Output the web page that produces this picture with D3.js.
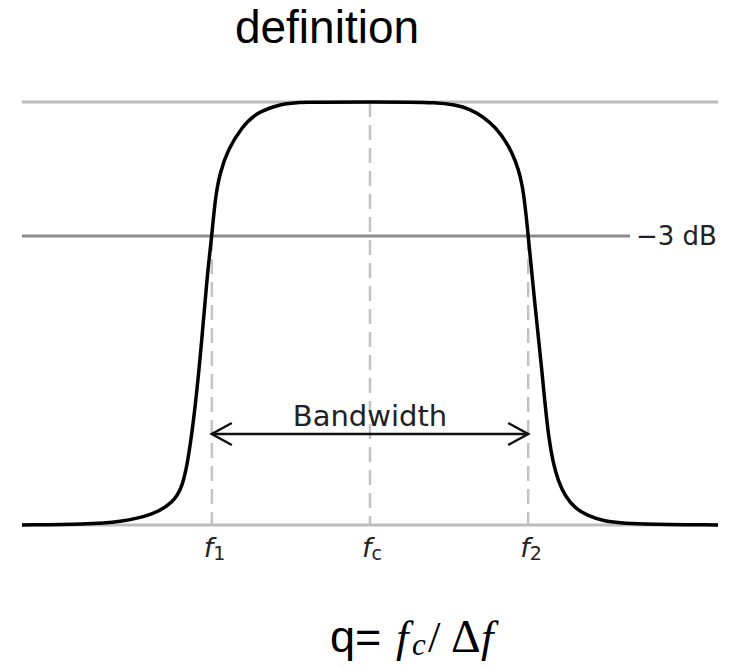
<!DOCTYPE html>
<html>
<head>
<meta charset="utf-8">
<script src="https://cdn.jsdelivr.net/npm/d3@7"></script>
<style>
  body { margin: 0; background: #fff; }
  svg { display: block; }
</style>
</head>
<body>
<div id="chart"></div>
<script>
// frequency offset from fc, in units of half the bandwidth (f1 = -1, f2 = +1)
var freqOffsets = [-2.2, -1.79, -1.58, -1.37, -1.247, -1.184, -1.146, -1.104, -1.063, -1.028, -1.0,
  -0.978, -0.949, -0.899, -0.81, -0.722, -0.57, -0.443, 0,
  0.443, 0.633, 0.804, 0.905, 0.968, 1.0, 1.044, 1.089, 1.127, 1.184, 1.285, 1.475, 1.69, 2.2];
// relative amplitude of the response
var gains = [0, 0.002, 0.007, 0.024, 0.052, 0.09, 0.161, 0.279, 0.437, 0.596, 0.683,
  0.775, 0.832, 0.887, 0.941, 0.974, 0.995, 1.0, 1.0,
  1.0, 0.988, 0.941, 0.879, 0.809, 0.683, 0.515, 0.359, 0.201, 0.099, 0.035, 0.007, 0.002, 0];

// marker frequencies and their labels
var markerFreqs = [-1, 0, 1];
var markerSubs = ["1", "c", "2"];

// reference levels
var passLevel = 1;
var halfPowerLevel = 0.683;
var floorLevel = 0;
var halfPowerLabel = "\u22123 dB";

var width = 729, height = 668;

var svg = d3.select("#chart").append("svg")
  .attr("width", width)
  .attr("height", height);

var x = d3.scaleLinear().domain([-2.2, 2.2]).range([22, 718]);
var y = d3.scaleLinear().domain([0, 1]).range([525, 102]);

// title
svg.append("text")
  .attr("x", 327)
  .attr("y", 43)
  .attr("text-anchor", "middle")
  .style("font-family", "'Liberation Sans', Arial, sans-serif")
  .style("font-size", "46px")
  .attr("fill", "#000")
  .text("definition");

// horizontal reference lines
svg.append("line")
  .attr("x1", x(-2.2)).attr("x2", x(2.2))
  .attr("y1", y(passLevel)).attr("y2", y(passLevel))
  .attr("stroke", "#bdbdbd").attr("stroke-width", 3);

svg.append("line")
  .attr("x1", x(-2.2)).attr("x2", 630)
  .attr("y1", y(halfPowerLevel)).attr("y2", y(halfPowerLevel))
  .attr("stroke", "#8c8c8c").attr("stroke-width", 3);

svg.append("line")
  .attr("x1", x(-2.2)).attr("x2", x(2.2))
  .attr("y1", y(floorLevel)).attr("y2", y(floorLevel))
  .attr("stroke", "#bdbdbd").attr("stroke-width", 3);

svg.append("text")
  .attr("x", 636)
  .attr("y", y(halfPowerLevel) + 9)
  .style("font-family", "'DejaVu Sans', sans-serif")
  .style("font-size", "26px")
  .attr("fill", "#222")
  .text(halfPowerLabel);

// dashed marker lines
svg.append("g").selectAll("line")
  .data(markerFreqs)
  .enter().append("line")
  .attr("x1", function(d) { return x(d); })
  .attr("x2", function(d) { return x(d); })
  .attr("y1", function(d) { return d === 0 ? y(passLevel) : y(halfPowerLevel); })
  .attr("y2", y(floorLevel))
  .attr("stroke", "#c3c3c3")
  .attr("stroke-width", 2.5)
  .attr("stroke-dasharray", "15,8");

// marker labels
var labels = svg.append("g").selectAll("text")
  .data(markerFreqs)
  .enter().append("text")
  .attr("x", function(d) { return x(d) - 8; })
  .attr("y", 557)
  .style("font-family", "'DejaVu Sans', sans-serif")
  .attr("fill", "#222");
labels.append("tspan")
  .style("font-style", "italic")
  .style("font-size", "27px")
  .text("f");
labels.append("tspan")
  .attr("dy", 3)
  .style("font-size", "19px")
  .text(function(d, i) { return markerSubs[i]; });

// bandwidth arrow
var arrow = svg.append("g")
  .attr("stroke", "#111")
  .attr("stroke-width", 2.5)
  .attr("fill", "none");
var ay = 434;
arrow.append("line")
  .attr("x1", x(-1)).attr("x2", x(1))
  .attr("y1", ay).attr("y2", ay);
arrow.append("path")
  .attr("d", "M" + (x(-1) + 20) + "," + (ay - 11) + "L" + x(-1) + "," + ay + "L" + (x(-1) + 20) + "," + (ay + 11));
arrow.append("path")
  .attr("d", "M" + (x(1) - 20) + "," + (ay - 11) + "L" + x(1) + "," + ay + "L" + (x(1) - 20) + "," + (ay + 11));

svg.append("text")
  .attr("x", x(0))
  .attr("y", 426)
  .attr("text-anchor", "middle")
  .style("font-family", "'DejaVu Sans', sans-serif")
  .style("font-size", "29px")
  .attr("fill", "#222")
  .text("Bandwidth");

// response curve
var line = d3.line()
  .x(function(d, i) { return x(freqOffsets[i]); })
  .y(function(d) { return y(d); })
  .curve(d3.curveBasis);

svg.append("path")
  .datum(gains)
  .attr("d", line)
  .attr("fill", "none")
  .attr("stroke", "#000")
  .attr("stroke-width", 3.5)
  .attr("stroke-linejoin", "round");

// formula
var serif = "'Liberation Serif', 'DejaVu Serif', serif";
var formula = svg.append("text")
  .attr("y", 652)
  .attr("fill", "#000");
formula.append("tspan")
  .attr("x", 330)
  .style("font-family", "'Liberation Sans', Arial, sans-serif")
  .style("font-size", "45px")
  .text("q=");
formula.append("tspan")
  .attr("x", 396)
  .style("font-family", serif)
  .style("font-style", "italic")
  .style("font-size", "45px")
  .text("f");
formula.append("tspan")
  .attr("x", 412)
  .attr("dy", 3)
  .style("font-family", serif)
  .style("font-style", "italic")
  .style("font-size", "31px")
  .text("c");
formula.append("tspan")
  .attr("x", 428)
  .attr("dy", -3)
  .style("font-family", serif)
  .style("font-size", "45px")
  .text("/");
formula.append("tspan")
  .attr("x", 451)
  .style("font-family", serif)
  .style("font-size", "46px")
  .text("\u0394");
formula.append("tspan")
  .attr("x", 481)
  .style("font-family", serif)
  .style("font-style", "italic")
  .style("font-size", "45px")
  .text("f");
</script>
</body>
</html>
